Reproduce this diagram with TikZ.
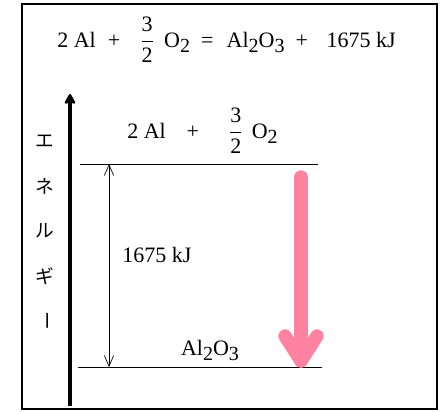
\documentclass[tikz,border=0pt]{standalone}
\usepackage{amsmath}
\usepackage{graphicx}
\usepackage{fontspec}
\setmainfont{Liberation Serif}
\newfontfamily\jpfont{Noto Sans CJK JP}
\usetikzlibrary{arrows.meta}
\definecolor{arrowpink}{RGB}{255,130,160}
\newcommand{\chsub}[1]{\raisebox{-0.55ex}{\fontsize{15}{15}\selectfont #1}}
\newcommand{\thalf}{$\genfrac{}{}{0.6pt}{0}{\text{3}}{\text{2}}$}

\begin{document}
\begin{tikzpicture}[x=0.75pt,y=-0.75pt,font=\fontsize{16.5}{19}\selectfont,
  level/.style={line width=0.6pt},
  kana/.style={font=\fontsize{14}{14}\selectfont\jpfont}]
  \useasboundingbox (0,0) rectangle (445,411);
  \draw[line width=1.5pt] (22,4) rectangle (437,409);
  \node[anchor=base west,inner sep=0pt] (eq) at (57,47) {2 Al\hspace{0.55em}+\hspace{0.9em}\thalf\hspace{0.45em}O\chsub{2}\hspace{0.5em}=\hspace{0.6em}Al\chsub{2}O\chsub{3}\hspace{0.5em}+\hspace{0.85em}1675 kJ};
  % energy axis
  \coordinate (ebot) at (70,406);
  \coordinate (etop) at (70,94);
  \draw[line width=3pt,-{Stealth[length=9pt,width=10pt,inset=2pt,round]}] (ebot) -- (etop);
  \foreach \k/\y [count=\i] in {エ/141,ネ/186,ル/231,ギ/276} \node[kana] (kana\i) at (45,\y) {\k};
  \node[kana,rotate=-90] (kana5) at (45,321) {ー};
  % levels
  \coordinate (topL) at (80,164);
  \coordinate (topR) at (318,164);
  \coordinate (botL) at (78,367);
  \coordinate (botR) at (322,367);
  \draw[level] (topL) -- (topR);
  \draw[level] (botL) -- (botR);
  \node[anchor=base west,inner sep=0pt] (react) at (127,138) {2 Al\hspace{0.95em}+\hspace{1.35em}\thalf\hspace{0.4em}O\chsub{2}};
  \node[anchor=base,inner sep=0pt] (prod) at (210,355) {Al\chsub{2}O\chsub{3}};
  \coordinate (dtop) at (109,164);
  \coordinate (dbot) at (109,367);
  \draw[line width=0.5pt,{Straight Barb[length=8pt,width=7pt]}-{Straight Barb[length=8pt,width=7pt]}] (dtop) -- (dbot);
  \node[anchor=base,inner sep=0pt] (heat) at (157,262) {1675 kJ};
  % pink arrow
  \coordinate (ptop) at (301,177);
  \coordinate (ptip) at (301,361);
  \draw[arrowpink,line width=10pt,line cap=round] (ptop) -- (ptip);
  \draw[arrowpink,line width=10pt,line cap=round,line join=round] (285,336) -- (ptip) -- (317,336);
\end{tikzpicture}
\end{document}
